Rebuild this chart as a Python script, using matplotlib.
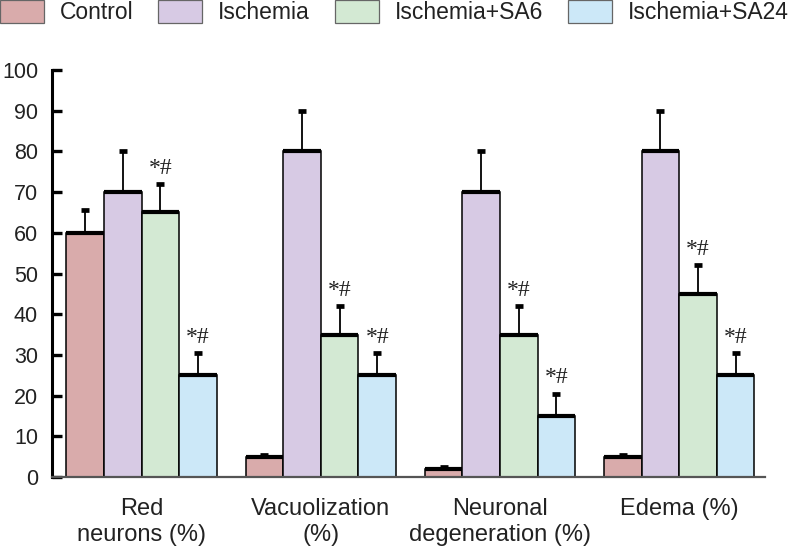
import numpy as np
import matplotlib
matplotlib.use("Agg")
import matplotlib.pyplot as plt
from matplotlib.patches import Patch

plt.rcParams["font.family"] = ["Liberation Sans", "DejaVu Sans"]

# Data
categories = ["Red\nneurons (%)", "Vacuolization\n(%)", "Neuronal\ndegeneration (%)", "Edema (%)"]
groups = ["Control", "Ischemia", "Ischemia+SA6", "Ischemia+SA24"]
control = [60, 5, 2, 5]
ischemia = [70, 80, 70, 80]
sa6 = [65, 35, 35, 45]
sa24 = [25, 25, 15, 25]
control_err = [5.5, 0.5, 0.5, 0.5]
ischemia_err = [10, 10, 10, 10]
sa6_err = [7, 7, 7, 7]
sa24_err = [5.5, 5.5, 5.5, 5.5]
# which bars carry the "*#" mark
marked = ["Ischemia+SA6", "Ischemia+SA24"]

colors = ["#d9abab", "#d7cae4", "#d3e9d3", "#cce8f8"]
values = [control, ischemia, sa6, sa24]
errors = [control_err, ischemia_err, sa6_err, sa24_err]

fig = plt.figure(figsize=(7.96, 5.5), dpi=100)
ax = fig.add_axes([0.0653, 0.1327, 0.896, 0.74])

x = np.arange(len(categories))
width = 0.21

for i, (name, vals, errs, col) in enumerate(zip(groups, values, errors, colors)):
    pos = x + (i - 1.5) * width
    ax.bar(pos, vals, width, color=col, edgecolor="black", linewidth=1.1, zorder=2)
    # thick top edge
    ax.hlines(vals, pos - width / 2, pos + width / 2, color="black", linewidth=3, zorder=3)
    ax.errorbar(pos, vals, yerr=[np.zeros(len(vals)), errs], fmt="none", ecolor="black",
                elinewidth=1.3, capsize=3.0, capthick=3.4, zorder=1)
    if name in marked:
        for p, v, e in zip(pos, vals, errs):
            ax.text(p, v + e + 1.3, "*#", ha="center", va="bottom", fontsize=17,
                    family=["Liberation Serif", "DejaVu Serif"], color="#222222")

ax.set_xlim(-0.5, 3.48)
ax.set_ylim(0, 100)
ax.set_yticks(np.arange(0, 101, 10))
ax.set_xticks(x)
ax.set_xticklabels(categories, fontsize=17, color="#222222", linespacing=1.25)
ax.tick_params(axis="y", direction="in", length=7, width=2.4, pad=10, labelsize=15.5,
               labelcolor="#222222")
ax.tick_params(axis="x", length=0, pad=15)

ax.spines["top"].set_visible(False)
ax.spines["right"].set_visible(False)
ax.spines["left"].set_linewidth(2.2)
ax.spines["bottom"].set_linewidth(1.6)
ax.spines["bottom"].set_color("#555555")

handles = [Patch(facecolor=c, edgecolor="#666666", linewidth=0.9) for c in colors]
leg = fig.legend(handles, groups, loc="upper left", bbox_to_anchor=(0.0, 1.0), ncol=4,
                 frameon=False, fontsize=16.5, handlelength=1.9, handleheight=1.15,
                 handletextpad=0.7, columnspacing=1.1, borderaxespad=0.0, borderpad=0.0)
for t in leg.get_texts():
    t.set_color("#222222")

fig.savefig("out.png", dpi=100)
